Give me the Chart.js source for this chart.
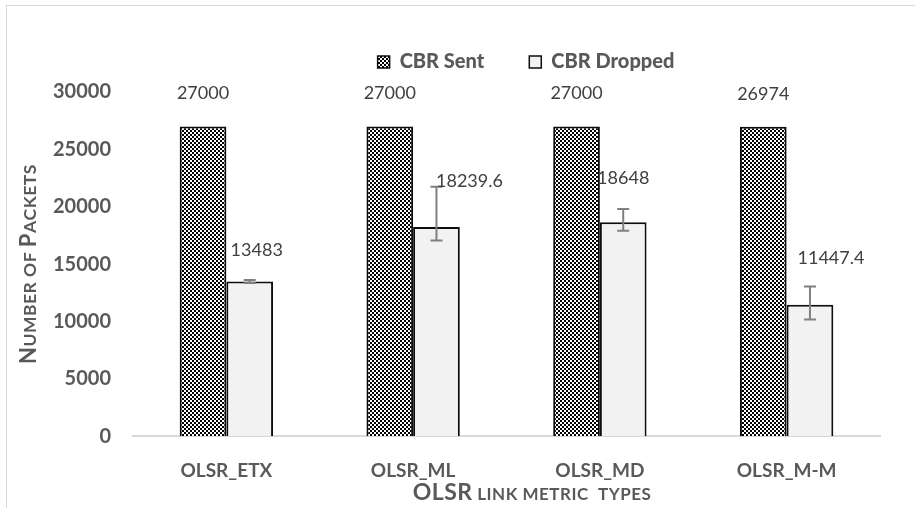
<!DOCTYPE html>
<html>
<head>
<meta charset="utf-8">
<script src="https://cdn.jsdelivr.net/npm/chart.js@4.4.1/dist/chart.umd.min.js"></script>
<style>
    html, body { margin: 0; padding: 0; background: #fff; }
    #wrap { position: relative; width: 915px; height: 508px; overflow: hidden; }
    #frame { position: absolute; left: 6px; top: 5px; width: 1000px; height: 600px;
             border-left: 1.5px solid #d9d9d9; border-top: 1.5px solid #d9d9d9; }
    #chart { position: absolute; left: 0; top: 0; }
</style>
</head>
<body>
<div id="wrap">
    <div id="frame"></div>
    <canvas id="chart" width="915" height="508"></canvas>
</div>
<script>
const categories = ["OLSR_ETX", "OLSR_ML", "OLSR_MD", "OLSR_M-M"];
const sentValues = [27000, 27000, 27000, 26974];
const droppedValues = [13483, 18239.6, 18648, 11447.4];
// error bar ends on the "dropped" series
const droppedErrLow = [13350, 17050, 17900, 10180];
const droppedErrHigh = [13620, 21750, 19800, 13050];
const yTicks = [0, 5000, 10000, 15000, 20000, 25000, 30000];

const FONT = "Lato";
const GREY = "#595959";

function checkerPattern(cell) {
    const c = document.createElement("canvas");
    c.width = c.height = cell * 2;
    const g = c.getContext("2d");
    g.fillStyle = "#fff";
    g.fillRect(0, 0, cell * 2, cell * 2);
    g.fillStyle = "#000";
    g.fillRect(0, 0, cell, cell);
    g.fillRect(cell, cell, cell, cell);
    return g.createPattern(c, "repeat");
}

// draws "Small Caps" text the way the office chart does: capitals big, the rest smaller capitals
function drawSmallCaps(ctx, text, cx, cy, big, small, rotate) {
    const parts = [];
    for (const ch of text) {
        const isBig = ch !== " " && ch === ch.toUpperCase();
        parts.push({ ch: ch.toUpperCase(), size: isBig ? big : small });
    }
    ctx.save();
    ctx.letterSpacing = "0.5px";
    let total = 0;
    parts.forEach((p) => {
        ctx.font = `bold ${p.size}px ${FONT}`;
        p.w = ctx.measureText(p.ch).width;
        total += p.w;
    });
    ctx.translate(cx, cy);
    if (rotate) ctx.rotate(-Math.PI / 2);
    ctx.fillStyle = GREY;
    ctx.textBaseline = "alphabetic";
    let x = -total / 2;
    parts.forEach((p) => {
        ctx.font = `bold ${p.size}px ${FONT}`;
        ctx.fillText(p.ch, x, big * 0.36);
        x += p.w;
    });
    ctx.restore();
}

const sentLabelLift = 33;
const droppedLabelShift = [[7, -31], [33, -46], [0, -44], [21, -47]];

const extrasPlugin = {
    id: "extras",
    afterLayout(chart) {
        // legend sits a little right of centre and above the plot, as in the original
        const lg = chart.legend;
        const dx = 526 - (lg.left + lg.right) / 2;
        lg.left += dx;
        lg.right += dx;
        lg.top -= 10;
        lg.bottom -= 10;
    },
    afterDatasetsDraw(chart) {
        const { ctx } = chart;
        const y = chart.scales.y;
        const sentMeta = chart.getDatasetMeta(0);
        const dropMeta = chart.getDatasetMeta(1);

        ctx.save();
        ctx.strokeStyle = "#808080";
        ctx.lineWidth = 2;
        dropMeta.data.forEach((bar, i) => {
            const top = y.getPixelForValue(droppedErrHigh[i]);
            const bot = y.getPixelForValue(droppedErrLow[i]);
            ctx.beginPath();
            ctx.moveTo(bar.x, top);
            ctx.lineTo(bar.x, bot);
            ctx.moveTo(bar.x - 6, top);
            ctx.lineTo(bar.x + 6, top);
            ctx.moveTo(bar.x - 6, bot);
            ctx.lineTo(bar.x + 6, bot);
            ctx.stroke();
        });

        ctx.fillStyle = "#404040";
        ctx.font = `18px ${FONT}`;
        ctx.textAlign = "center";
        ctx.textBaseline = "middle";
        sentMeta.data.forEach((bar, i) => {
            ctx.fillText(String(sentValues[i]), bar.x, bar.y - sentLabelLift);
        });
        dropMeta.data.forEach((bar, i) => {
            const [dx, dy] = droppedLabelShift[i];
            ctx.fillText(String(droppedValues[i]), bar.x + dx, bar.y + dy);
        });
        ctx.restore();
    },
    afterDraw(chart) {
        const { ctx, chartArea } = chart;
        drawSmallCaps(ctx, "Number of Packets", 28, (chartArea.top + chartArea.bottom) / 2, 22, 17.5, true);
        drawSmallCaps(ctx, "OLSR link metric  types", 532, 492, 23, 17, false);
    }
};

const sentPattern = checkerPattern(2);

new Chart(document.getElementById("chart"), {
    type: "bar",
    data: {
        labels: categories,
        datasets: [
            {
                label: "CBR Sent",
                data: sentValues,
                backgroundColor: sentPattern,
                borderColor: "#0d0d0d",
                borderWidth: 2,
                categoryPercentage: 0.5,
                barPercentage: 1.0
            },
            {
                label: "CBR Dropped",
                data: droppedValues,
                backgroundColor: "#f2f2f2",
                borderColor: "#0d0d0d",
                borderWidth: 2,
                categoryPercentage: 0.5,
                barPercentage: 1.0
            }
        ]
    },
    options: {
        responsive: false,
        animation: false,
        layout: {
            padding: { top: 42, left: 31, right: 35, bottom: 3 }
        },
        plugins: {
            legend: {
                display: true,
                position: "top",
                labels: {
                    boxWidth: 12,
                    boxHeight: 12,
                    padding: 20,
                    color: GREY,
                    font: { family: FONT, size: 20, weight: "900" },
                    generateLabels: (chart) =>
                        Chart.defaults.plugins.legend.labels.generateLabels(chart).map((item, i) => ({
                            ...item,
                            lineWidth: 1.5,
                            text: i === 0 ? item.text + "\u2003\u2002" : item.text
                        }))
                }
            },
            tooltip: { enabled: false }
        },
        scales: {
            x: {
                grid: { display: false, drawTicks: false },
                border: { display: true, color: "#d9d9d9", width: 2 },
                ticks: {
                    color: GREY,
                    padding: 23,
                    maxRotation: 0,
                    font: { family: FONT, size: 19, weight: "bold" }
                }
            },
            y: {
                min: 0,
                max: 30000,
                afterBuildTicks: (scale) => {
                    scale.ticks = yTicks.map((v) => ({ value: v }));
                },
                grid: { display: false, drawTicks: false },
                border: { display: false },
                ticks: {
                    color: GREY,
                    padding: 22,
                    callback: (value) => String(value),
                    font: { family: FONT, size: 20, weight: "bold" }
                }
            }
        }
    },
    plugins: [extrasPlugin]
});
</script>
</body>
</html>
